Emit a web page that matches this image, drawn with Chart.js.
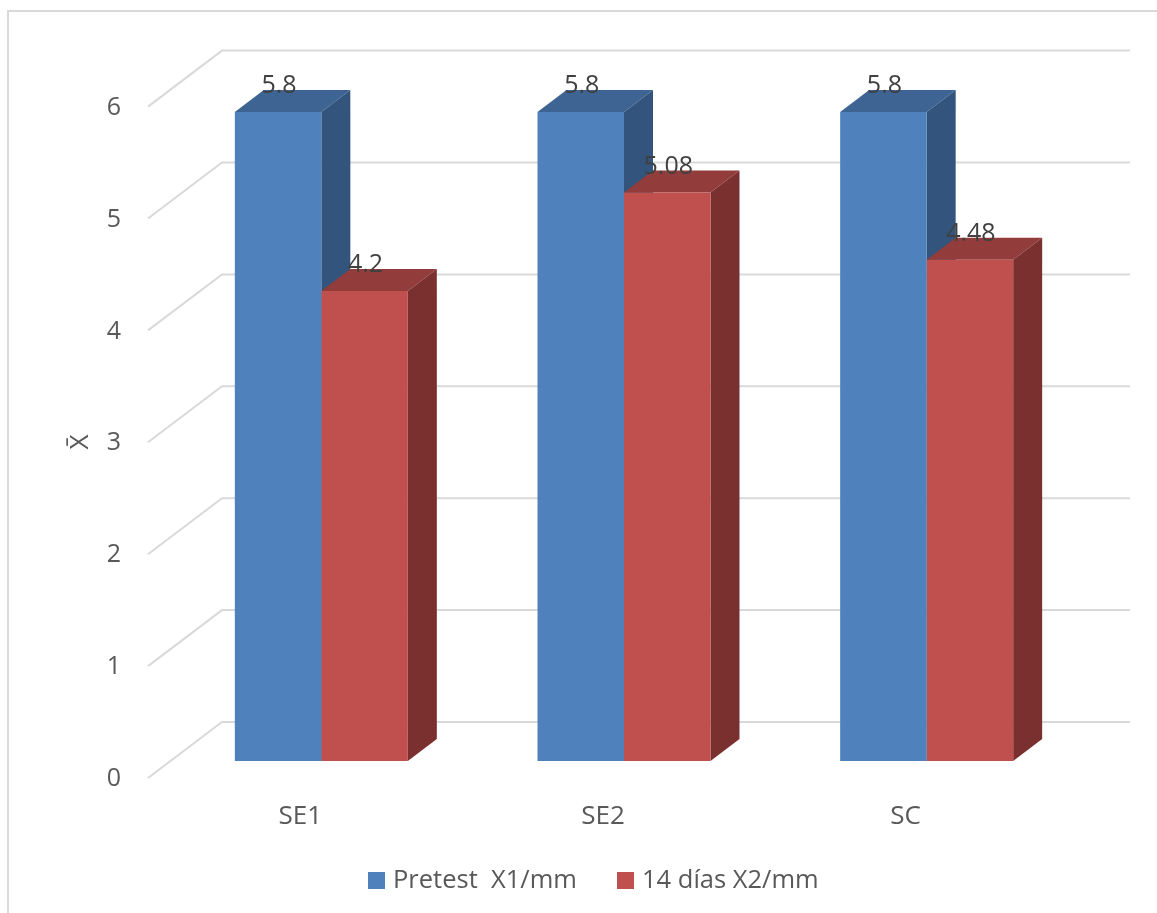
<!DOCTYPE html>
<html>
<head>
<meta charset="utf-8">
<title>Pretest vs 14 días</title>
<script src="https://cdn.jsdelivr.net/npm/chart.js@4.4.1/dist/chart.umd.min.js"></script>
<style>
  html, body { margin: 0; padding: 0; background: #ffffff; }
  #wrap { width: 1157px; height: 913px; position: relative; }
</style>
</head>
<body>
<div id="wrap"><canvas id="c" width="1157" height="913"></canvas></div>
<script>
// Data
const categories = ['SE1', 'SE2', 'SC'];
const pretestX1 = [5.8, 5.8, 5.8];
const dias14X2 = [4.2, 5.08, 4.48];
const yTickValues = [0, 1, 2, 3, 4, 5, 6];
const seriesLabels = ['Pretest  X1/mm', '14 días X2/mm'];
const axisTitle = 'X\u0304';

// Style
const FONT = '"Open Sans", "Liberation Sans", sans-serif';
const TEXT = '#595959';
const GRID = '#D9D9D9';
const palette = [
  { front: '#4F81BD', top: '#3D6493', side: '#33547D' },
  { front: '#C0504D', top: '#923D3B', side: '#7B3030' }
];
// 3D projection offsets (pixels) relative to the bar front plane
const BAR_DEPTH = { dx: 29, dy: -22 };
const WALL = { dx: 52, dy: -39 };
const FLOOR_FRONT = { dx: -22, dy: 17 };

const pseudo3d = {
  id: 'pseudo3d',
  beforeDatasetsDraw(chart) {
    const ctx = chart.ctx;
    const y = chart.scales.y;
    const x = chart.scales.x;
    const area = chart.chartArea;
    ctx.save();

    // outer frame
    ctx.strokeStyle = GRID;
    ctx.lineWidth = 2;
    ctx.strokeRect(8, 11, 1300, 1100);

    // gridlines: side diagonal + back wall horizontal
    ctx.lineWidth = 2;
    ctx.strokeStyle = GRID;
    yTickValues.forEach(v => {
      const py = y.getPixelForValue(v);
      ctx.beginPath();
      ctx.moveTo(area.left + FLOOR_FRONT.dx, py + FLOOR_FRONT.dy);
      ctx.lineTo(area.left + WALL.dx, py + WALL.dy);
      ctx.lineTo(area.right + WALL.dx, py + WALL.dy);
      ctx.stroke();
    });

    // y tick labels
    ctx.fillStyle = TEXT;
    ctx.font = '25px ' + FONT;
    ctx.textAlign = 'right';
    ctx.textBaseline = 'middle';
    yTickValues.forEach(v => {
      const py = y.getPixelForValue(v);
      ctx.fillText(String(v), area.left - 49, py + FLOOR_FRONT.dy + 1);
    });

    // y axis title
    ctx.save();
    ctx.translate(81, 442);
    ctx.rotate(-Math.PI / 2);
    ctx.textAlign = 'center';
    ctx.textBaseline = 'middle';
    ctx.font = '26px ' + FONT;
    ctx.fillText(axisTitle, 0, 0);
    ctx.restore();

    // category labels
    ctx.textAlign = 'center';
    ctx.textBaseline = 'middle';
    ctx.font = '26px ' + FONT;
    categories.forEach((c, i) => {
      ctx.fillText(c, x.getPixelForValue(i) - 21, 817);
    });

    // legend
    const legendX = [368, 617];
    ctx.textAlign = 'left';
    ctx.font = '25.5px ' + FONT;
    chart.data.datasets.forEach((ds, i) => {
      ctx.fillStyle = palette[i].front;
      ctx.fillRect(legendX[i], 872, 17, 17);
      ctx.fillStyle = TEXT;
      ctx.fillText(ds.label, legendX[i] + 25, 881);
    });

    // bar tops and sides, drawn series by series
    chart.data.datasets.forEach((ds, i) => {
      const meta = chart.getDatasetMeta(i);
      meta.data.forEach(bar => {
        const l = bar.x - bar.width / 2;
        const r = bar.x + bar.width / 2;
        const t = bar.y;
        const b = bar.base;
        // top face
        ctx.fillStyle = palette[i].top;
        ctx.beginPath();
        ctx.moveTo(l, t);
        ctx.lineTo(l + BAR_DEPTH.dx, t + BAR_DEPTH.dy);
        ctx.lineTo(r + BAR_DEPTH.dx, t + BAR_DEPTH.dy);
        ctx.lineTo(r, t);
        ctx.closePath();
        ctx.fill();
        // side face
        ctx.fillStyle = palette[i].side;
        ctx.beginPath();
        ctx.moveTo(r, t);
        ctx.lineTo(r + BAR_DEPTH.dx, t + BAR_DEPTH.dy);
        ctx.lineTo(r + BAR_DEPTH.dx, b + BAR_DEPTH.dy);
        ctx.lineTo(r, b);
        ctx.closePath();
        ctx.fill();
      });
    });
    ctx.restore();
  },
  afterDatasetsDraw(chart) {
    const ctx = chart.ctx;
    ctx.save();
    ctx.fillStyle = '#404040';
    ctx.font = '25px ' + FONT;
    ctx.textAlign = 'center';
    ctx.textBaseline = 'alphabetic';
    chart.data.datasets.forEach((ds, i) => {
      const meta = chart.getDatasetMeta(i);
      meta.data.forEach((bar, j) => {
        ctx.fillText(String(ds.data[j]), bar.x + 1, bar.y + BAR_DEPTH.dy + 3);
      });
    });
    ctx.restore();
  }
};

new Chart(document.getElementById('c'), {
  type: 'bar',
  data: {
    labels: categories,
    datasets: [
      { label: seriesLabels[0], data: pretestX1, backgroundColor: palette[0].front, borderWidth: 0 },
      { label: seriesLabels[1], data: dias14X2, backgroundColor: palette[1].front, borderWidth: 0 }
    ]
  },
  options: {
    responsive: false,
    animation: false,
    devicePixelRatio: 1,
    layout: { padding: { left: 170, right: 79, top: 89.6, bottom: 152 } },
    datasets: { bar: { categoryPercentage: 0.5716, barPercentage: 1 } },
    scales: {
      x: { display: false },
      y: { display: false, min: 0, max: 6 }
    },
    plugins: { legend: { display: false }, tooltip: { enabled: false } }
  },
  plugins: [pseudo3d]
});
</script>
</body>
</html>
